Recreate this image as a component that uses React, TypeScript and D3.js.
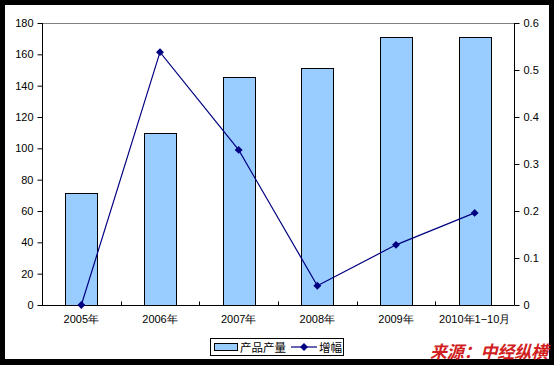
import React, { useEffect, useRef } from 'react'
import * as d3 from 'd3'

const categories = ['2005年', '2006年', '2007年', '2008年', '2009年', '2010年1−10月']
const output = [71.5, 110, 145.5, 151.5, 171, 171]
const growth = [0, 0.538, 0.33, 0.041, 0.128, 0.196]
const leftTicks = [0, 20, 40, 60, 80, 100, 120, 140, 160, 180]
const rightTicks = [0, 0.1, 0.2, 0.3, 0.4, 0.5, 0.6]

const W = 554
const H = 365
const font = '"Liberation Sans", Arial, sans-serif'

const App = () => {
  const svgRef = useRef<SVGSVGElement>(null)

  useEffect(() => {
    const svg = d3.select(svgRef.current)
    svg.selectAll('*').remove()

    const left = 42, right = 514, top = 23, bottom = 305

    // frame
    svg.append('rect').attr('width', W).attr('height', H).attr('fill', '#000')
    svg.append('rect').attr('x', 5).attr('y', 5).attr('width', 544).attr('height', 354).attr('fill', '#fff')

    const x = d3.scaleBand().domain(categories).range([left, right]).paddingInner(0).paddingOuter(0)
    const yL = d3.scaleLinear().domain([0, 180]).range([bottom, top])
    const yR = d3.scaleLinear().domain([0, 0.6]).range([bottom, top])

    // top grid line
    svg.append('line').attr('x1', left).attr('x2', right).attr('y1', top + 0.5).attr('y2', top + 0.5)
      .attr('stroke', '#808080')

    const barW = 32
    svg.selectAll('.bar').data(output).join('rect')
      .attr('class', 'bar')
      .attr('x', (d, i) => Math.round(x(categories[i])! + x.bandwidth() / 2 - barW / 2) + 0.5)
      .attr('y', d => Math.round(yL(d)) + 0.5)
      .attr('width', barW)
      .attr('height', d => bottom - Math.round(yL(d)))
      .attr('fill', '#99ccff')
      .attr('stroke', '#000')

    // left axis
    const gL = svg.append('g').attr('transform', `translate(${left + 0.5},0)`)
      .call(d3.axisLeft(yL).tickValues(leftTicks).tickSize(5).tickPadding(4).tickFormat(d3.format('d')))
    gL.select('.domain').attr('d', `M0,${top}V${bottom}`)

    // right axis
    const gR = svg.append('g').attr('transform', `translate(${right + 0.5},0)`)
      .call(d3.axisRight(yR).tickValues(rightTicks).tickSize(5).tickPadding(4)
        .tickFormat(d => (d === 0 ? '0' : d3.format('.1f')(d as number))))
    gR.select('.domain').attr('d', `M0,${top}V${bottom}`)

    // bottom axis
    const gB = svg.append('g').attr('transform', `translate(0,${bottom + 0.5})`)
      .call(d3.axisBottom(x).tickSize(0).tickPadding(10))
    gB.select('.domain').attr('d', `M${left},0H${right}`)
    const bounds = d3.range(categories.length + 1).map(i => left + i * x.bandwidth())
    gB.selectAll('.cat').data(bounds).join('line')
      .attr('x1', d => Math.round(d) + 0.5).attr('x2', d => Math.round(d) + 0.5)
      .attr('y1', 0).attr('y2', -4).attr('stroke', '#000')

    svg.selectAll('.tick text').attr('font-family', font).attr('font-size', 11).attr('fill', '#000')
    svg.selectAll('.domain, .tick line').attr('stroke', '#000')

    // growth line
    const cx = (i: number) => x(categories[i])! + x.bandwidth() / 2
    const line = d3.line<number>().x((d, i) => cx(i)).y(d => yR(d))
    svg.append('path').datum(growth).attr('d', line).attr('fill', 'none')
      .attr('stroke', '#000080').attr('stroke-width', 1.2)
    const diamond = d3.symbol().type(d3.symbolDiamond2).size(40)
    svg.selectAll('.pt').data(growth).join('path')
      .attr('class', 'pt')
      .attr('transform', (d, i) => `translate(${cx(i)},${yR(d)})`)
      .attr('d', diamond)
      .attr('fill', '#000080')

    // legend
    const lg = svg.append('g')
    lg.append('rect').attr('x', 210.5).attr('y', 338.5).attr('width', 133).attr('height', 17)
      .attr('fill', '#fff').attr('stroke', '#000')
    lg.append('rect').attr('x', 214.5).attr('y', 343.5).attr('width', 23).attr('height', 7)
      .attr('fill', '#99ccff').attr('stroke', '#000')
    lg.append('text').attr('x', 240).attr('y', 351.5).text('产品产量')
      .attr('font-family', '"Noto Sans CJK SC", sans-serif').attr('font-size', 11.5)
    lg.append('line').attr('x1', 291).attr('x2', 317).attr('y1', 347).attr('y2', 347)
      .attr('stroke', '#000080').attr('stroke-width', 1.2)
    lg.append('path').attr('transform', 'translate(304,347)').attr('d', diamond).attr('fill', '#000080')
    lg.append('text').attr('x', 319).attr('y', 351.5).text('增幅')
      .attr('font-family', '"Noto Sans CJK SC", sans-serif').attr('font-size', 11.5)

    // watermark
    svg.append('text').attr('x', 430).attr('y', 358).text('来源：中经纵横')
      .attr('font-family', '"Noto Sans CJK SC", sans-serif').attr('font-size', 17)
      .attr('font-weight', 'bold').attr('font-style', 'italic').attr('fill', '#d02020')
      .attr('textLength', 118)
  }, [])

  return (
    <svg ref={svgRef} width={W} height={H}
      style={{ position: 'absolute', left: 0, top: 0, display: 'block' }} />
  )
}

export default App
